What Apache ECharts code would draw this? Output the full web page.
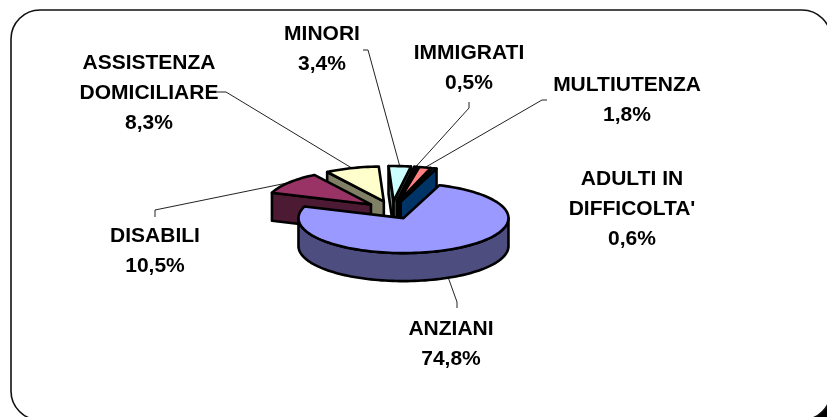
<!DOCTYPE html>
<html>
<head>
<meta charset="utf-8">
<style>
  html, body { margin: 0; padding: 0; background: #fff; }
  #chart { width: 827px; height: 417px; }
</style>
<script src="https://cdn.jsdelivr.net/npm/echarts@6/dist/echarts.min.js"></script>
</head>
<body>
<div id="chart"></div>
<script>
// clockwise around the pie
const categories = ['DISABILI', 'ASSISTENZA\nDOMICILIARE', 'MINORI', 'IMMIGRATI', 'MULTIUTENZA', "ADULTI IN\nDIFFICOLTA'", 'ANZIANI']
const percents = [10.5, 8.3, 3.4, 0.5, 1.8, 0.6, 74.8]
const topColors = ['#993366', '#FFFFCC', '#CCFFFF', '#660066', '#FF8080', '#0066CC', '#9999FF']
const sideColors = ['#4D1A33', '#808066', '#668080', '#330033', '#804040', '#003366', '#4D4D80']
// painter's order, higher goes on top
const paintRanks = [5, 0, 1, 2, 3, 4, 6]
// centre of each label block
const labelSpots = [[155, 251], [149, 93], [322, 49], [469, 68], [627, 100], [632, 209], [451, 344]]
// leader line, from the label side up to the elbow; null = no leader
const leaderStarts = [
  [[155, 217], [155, 210]],
  [[217, 92], [226, 92]],
  [[363, 50], [368, 50]],
  [[469, 102], [469, 108]],
  [[547, 100], [542, 100]],
  null,
  [[457, 308], [457, 302]]
]

const pie = { cx: 392, cy: 210, rx: 105, ry: 35, depth: 28, explode: 0.256, startAngle: 289.5 }
const total = percents.reduce((a, b) => a + b, 0)

function rad (deg) {
  return deg * Math.PI / 180
}

function rimPoint (c, deg, down) {
  return [c[0] + pie.rx * Math.sin(rad(deg)), c[1] - pie.ry * Math.cos(rad(deg)) + (down || 0)]
}

function arcPoints (c, from, to, down) {
  const pts = []
  const n = Math.max(2, Math.ceil((to - from) / 2))
  for (let k = 0; k <= n; k++) {
    pts.push(rimPoint(c, from + (to - from) * k / n, down))
  }
  return pts
}

function renderSlice (params, api) {
  const i = params.dataIndex
  const rank = paintRanks[i] * 10
  let before = 0
  for (let k = 0; k < i; k++) before += percents[k]
  const a = pie.startAngle + before / total * 360
  const b = a + api.value(0) / total * 360
  const mid = (a + b) / 2
  const apex = [
    pie.cx + pie.rx * pie.explode * Math.sin(rad(mid)),
    pie.cy - pie.ry * pie.explode * Math.cos(rad(mid))
  ]
  const d = pie.depth
  const children = []

  function poly (points, fill, level) {
    children.push({
      type: 'polygon',
      z2: rank + level,
      shape: { points: points },
      style: { fill: fill, stroke: '#000', lineWidth: 2.6, lineJoin: 'round' }
    })
  }

  // leader goes under the slice, its far end sits on the mid-angle of the rim
  if (leaderStarts[i]) {
    const onWall = Math.cos(rad(mid)) < 0
    children.push({
      type: 'polyline',
      z2: 0,
      shape: { points: leaderStarts[i].concat([rimPoint(apex, mid, onWall ? d : 0)]) },
      style: { fill: null, stroke: '#222', lineWidth: 1 }
    })
  }

  const apexLow = [apex[0], apex[1] + d]
  // cut faces, only those turned towards the viewer
  if (Math.sin(rad(a)) < 0) {
    poly([apex, rimPoint(apex, a), rimPoint(apex, a, d), apexLow], sideColors[i], 1)
  }
  if (Math.sin(rad(b)) > 0) {
    poly([apex, rimPoint(apex, b), rimPoint(apex, b, d), apexLow], sideColors[i], 1)
  }
  // outer wall, front half of the ellipse only (angles run past 360 here)
  const wallFrom = Math.max(a, 450)
  const wallTo = Math.min(b, 630)
  if (wallTo > wallFrom) {
    poly(arcPoints(apex, wallFrom, wallTo).concat(arcPoints(apex, wallFrom, wallTo, d).reverse()), sideColors[i], 2)
  }
  poly([apex].concat(arcPoints(apex, a, b)), topColors[i], 3)

  children.push({
    type: 'text',
    z2: 100,
    style: {
      text: api.value(1),
      x: labelSpots[i][0],
      y: labelSpots[i][1],
      align: 'center',
      verticalAlign: 'middle',
      fontFamily: 'Liberation Sans',
      fontWeight: 'bold',
      fontSize: 21,
      lineHeight: 30,
      fill: '#000'
    }
  })
  return { type: 'group', children: children }
}

const seriesData = categories.map((name, i) => ({
  name: name,
  value: [percents[i], name + '\n' + percents[i].toFixed(1).replace('.', ',') + '%']
}))

const chart = echarts.init(document.getElementById('chart'))
chart.setOption({
  animation: false,
  backgroundColor: '#fff',
  graphic: [
    // black corner showing past the frame, bottom right
    { type: 'rect', z: -2, shape: { x: 780, y: 380, width: 47, height: 37 }, style: { fill: '#000' }, silent: true },
    { type: 'rect', z: -1, shape: { x: 11, y: 10, width: 820, height: 410, r: 29 }, style: { fill: '#fff', stroke: '#111', lineWidth: 1.6 }, silent: true }
  ],
  series: [{
    type: 'custom',
    coordinateSystem: 'none',
    clip: false,
    silent: true,
    renderItem: renderSlice,
    data: seriesData
  }]
})
</script>
</body>
</html>
